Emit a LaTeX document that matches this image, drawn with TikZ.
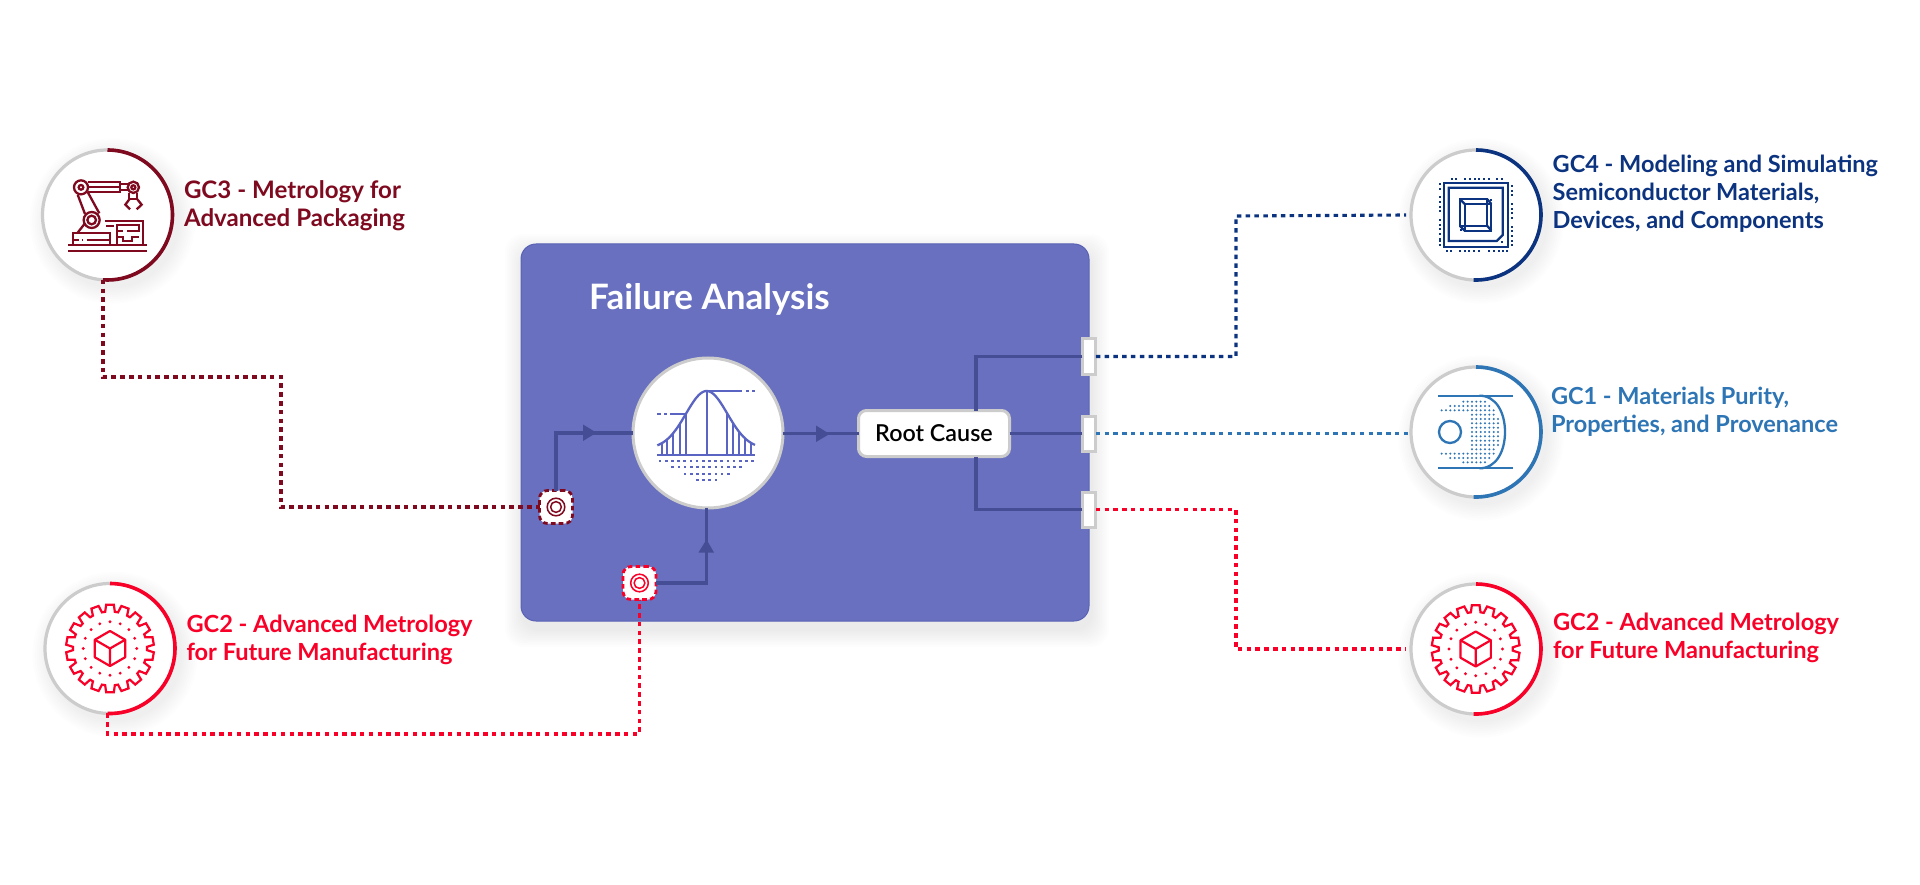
\documentclass[tikz,border=0pt]{standalone}
\usepackage{fontspec}
\setmainfont{Lato}
\usetikzlibrary{calc}
\definecolor{maroon}{HTML}{7F0A20}
\definecolor{redgc}{HTML}{F90028}
\definecolor{navygc}{HTML}{0B3380}
\definecolor{bluegc}{HTML}{2E75B5}
\definecolor{ringgray}{HTML}{CCCCCC}
\definecolor{boxfill}{HTML}{6870BF}
\definecolor{boxedge}{HTML}{5A62B5}
\definecolor{flowline}{HTML}{454E94}
\definecolor{bellblue}{HTML}{5A64C2}
\tikzset{
  ring/.style={circle,draw=ringgray,line width=3.2pt,fill=white,minimum size=130pt,inner sep=0pt,outer sep=0pt},
  ringarc/.style={line width=3.6pt},
  link/.style={line width=3.1pt,dash pattern=on 4.5pt off 4.3pt},
  flow/.style={draw=flowline,line width=3.6pt},
  flowtip/.style={fill=flowline},
  outport/.style={rectangle,draw=ringgray,fill=white,line width=3pt,minimum width=13.5pt,minimum height=35pt,inner sep=0pt,outer sep=0pt},
  inport/.style={rectangle,rounded corners=8pt,fill=white,line width=2.8pt,dash pattern=on 4.6pt off 3.2pt,minimum size=33pt,inner sep=0pt,outer sep=0pt},
  label/.style={anchor=north west,align=left,inner sep=0pt,outer sep=0pt},
  labelfont/.style={font=\fontsize{#1}{28}\selectfont\bfseries},
}
\newcommand{\softdisc}[3]{%
  \foreach \i in {1,...,8}{\fill[black,opacity=.006] (#1+5,#2+6) circle ({#3+\i*2.2});}}
\newcommand{\softbox}[4]{%
  \foreach \i in {1,...,10}{\fill[black,opacity=.008,rounded corners=18pt] ({#1-\i*1.8+2},{#2-\i*1.8+8}) rectangle ({#3+\i*1.8+2},{#4+\i*1.8+8});}}
\newcommand{\ringarc}[4]{% cx cy endangle colour
  \draw[ringarc,#4] (#1,#2-65) arc[start angle=90,end angle=#3,radius=65pt];}
\newcommand{\gearicon}[3]{%
  \begin{scope}[shift={(#1,#2)}]
  \draw[#3,line width=2.2pt] ({10-7.5}:37) \foreach \k in {0,...,17}{ -- ({10+20*\k-7.5}:37) -- ({10+20*\k-5}:44) -- ({10+20*\k+5}:44) -- ({10+20*\k+7.5}:37)} -- cycle;
  \foreach \k in {0,...,15}{\fill[#3] ({22.5*\k}:26.7) circle (1.6);}
  \draw[#3,line width=2.2pt,line join=round] (90:17.5) -- (30:17.5) -- (-30:17.5) -- (-90:17.5) -- (-150:17.5) -- (150:17.5) -- cycle;
  \draw[#3,line width=2.2pt,line join=round] (0,0) -- (-30:17.5) (0,0) -- (-150:17.5) (0,0) -- (90:17.5);
  \end{scope}}
\newcommand{\targeticon}[2]{\draw[#2,line width=1.5pt] (#1) circle (8.8) (#1) circle (5.4);}
\begin{document}
\begin{tikzpicture}[x=1pt,y=-1pt]
\useasboundingbox (0,0) rectangle (1920,885);
\fill[white] (0,0) rectangle (1920,885);

% shadows
\softbox{521}{244}{1089}{621}
\softdisc{107.5}{215}{65}
\softdisc{110}{648.5}{65}
\softdisc{1476}{215}{65}
\softdisc{1476}{432}{65}
\softdisc{1476}{649}{65}

% main panel
\node[rectangle,rounded corners=15pt,draw=boxedge,line width=1pt,fill=boxfill,minimum width=568pt,minimum height=377pt,inner sep=0pt,outer sep=0pt] (panel) at (805,432.5) {};
\node[anchor=base west,inner sep=0pt,text=white,font=\fontsize{35}{40}\selectfont\bfseries] (title) at (589,310) {Failure Analysis};

% rings
\node[ring] (gc3) at (107.5,215) {};
\node[ring] (gc2l) at (110,648.5) {};
\node[ring] (gc4) at (1476,215) {};
\node[ring] (gc1) at (1476,432) {};
\node[ring] (gc2r) at (1476,649) {};
\ringarc{107.5}{215}{-94}{maroon}
\ringarc{110}{648.5}{-92}{redgc}
\ringarc{1476}{215}{-92}{navygc}
\ringarc{1476}{432}{-92}{bluegc}
\ringarc{1476}{649}{-92}{redgc}

% inner nodes
\node[circle,draw=ringgray,line width=3pt,fill=white,minimum size=150pt,inner sep=0pt,outer sep=0pt] (bell) at (708,433) {};
\node[rectangle,rounded corners=8pt,draw=ringgray,line width=3pt,fill=white,minimum width=151pt,minimum height=46pt,inner sep=0pt,outer sep=0pt,font=\fontsize{23.3}{28}\selectfont\fontspec{Lato Semibold}] (root) at (934,433.5) {Root Cause};
\node[outport] (out1) at (1089,356.5) {};
\node[outport] (out2) at (1089,433.5) {};
\node[outport] (out3) at (1089,509.5) {};
\node[inport,draw=maroon] (in1) at (556,507) {};
\node[inport,draw=redgc] (in2) at (639.5,583) {};
\targeticon{in1.center}{maroon}
\targeticon{in2.center}{redgc}

% internal flows
\coordinate (tree) at (976,433.5);
\draw[flow] (in1.north) |- (bell.west);
\draw[flow] (in2.east) -| (bell.269);
\draw[flow] (bell.east |- root.west) -- (root.west);
\draw[flow] (root.east) -- (out2.west);
\draw[flow] (out1.west) -| (root.north -| tree);
\draw[flow] (out3.west) -| (root.south -| tree);
\fill[flowtip] (583,424.5) -- (596.5,432.7) -- (583,441) -- cycle;
\fill[flowtip] (816,425.5) -- (829.5,434) -- (816,442) -- cycle;
\fill[flowtip] (698.5,552.5) -- (706.5,539.5) -- (714,552.5) -- cycle;

% dotted links
\coordinate (a1) at (281,377);
\coordinate (a2) at (1236,216);
\coordinate (a3) at (1236,649);
\coordinate (a4) at (639.5,734);
\draw[link,maroon] (gc3.266) |- (a1) |- (in1.west);
\draw[link,redgc] (gc2l.268) |- (a4) -- (in2.south);
\draw[link,navygc] (out1.east) -| (a2) -- ([xshift=-5pt]gc4.west);
\draw[link,bluegc] (out2.east) -- ([xshift=-3pt]gc1.west |- out2.east);
\draw[link,redgc] (out3.east) -| (a3) -- ([xshift=-5pt]gc2r.west);

% labels
\node[label,labelfont=24.1,text=maroon] (t3) at (184,180.5) {GC3 - Metrology for\\Advanced Packaging};
\node[label,labelfont=23.6,text=redgc] (t2l) at (186.5,615) {GC2 - Advanced Metrology\\for Future Manufacturing};
\node[label,labelfont=23.5,text=navygc] (t4) at (1552.7,155) {GC4 - Modeling and Simulating\\Semiconductor Materials,\\Devices, and Components};
\node[label,labelfont=23.5,text=bluegc] (t1) at (1551,387.3) {GC1 - Materials Purity,\\Properties, and Provenance};
\node[label,labelfont=23.6,text=redgc] (t2r) at (1553,613) {GC2 - Advanced Metrology\\for Future Manufacturing};

% robot icon
\begin{scope}[shift={(30,140)},scale=1/3,maroon,line width=2.3pt,line join=miter]
\draw (114,316) -- (350,316) (114,332) -- (350,332);
\draw (153,142) circle (21) (153,142) circle (7);
\draw (310,142) circle (17) (310,142) circle (6);
\draw (173,126) -- (271,126) -- (271,155) -- (173,155) (175,140) -- (271,140);
\draw (271,132) -- (293,132) (271,150) -- (293,150);
\draw (298,158) -- (298,178) -- (322,178) -- (322,158);
\draw (298,178) -- (286,194) -- (300,208) (322,178) -- (335,194) -- (320,208);
\draw (143,164) -- (165,222) (173,156) -- (208,220);
\draw (185,240) circle (24) (185,240) circle (13);
\draw (143,278) -- (165,250);
\draw (130,316) -- (130,278) -- (241,278) -- (241,316);
\draw (130,300) -- (146,300) (170,300) -- (241,300);
\draw (155,300) -- (160,300);
\draw (226,242) -- (340,242) -- (340,316);
\draw (228,258) -- (252,258);
\draw (262,316) -- (262,256) -- (328,256) -- (328,272) -- (290,272);
\draw (262,290) -- (280,290) -- (280,304) -- (305,304) -- (305,290) -- (328,290);
\draw (262,272) -- (278,272);
\end{scope}

\gearicon{110}{648.5}{redgc}
\gearicon{1475.7}{649}{redgc}

% chip icon
\begin{scope}[shift={(1400,140)},scale=1/3,navygc,line width=2.3pt]
\draw (131,128) rectangle (325,320);
\draw (146,143) -- (308,143) -- (308,285) -- (290,303) -- (146,303) -- cycle;
\draw (180,178) rectangle (262,258);
\draw (194,192) rectangle (274,272);
\draw (180,178) -- (194,192) (262,178) -- (274,192) (180,258) -- (194,272) (262,258) -- (274,272);
\foreach \x in {155,168,196,210,224,238,252,266,292,306}{\fill (\x-3,114) rectangle (\x+3,120);}
\foreach \x in {140,154,180,194,208,222,236,268,282,296,310,322}{\fill (\x-3,331) rectangle (\x+3,337);}
\foreach \y in {132,146,172,186,200,214,240,254,268,282,296,304,315}{\fill (116,\y-3) rectangle (122,\y+3);}
\foreach \y in {138,152,166,192,206,220,234,260,274,288,302,315}{\fill (333,\y-3) rectangle (339,\y+3);}
\fill (270,177) rectangle (276,183);
\fill (180,268) rectangle (186,274);
\fill (304,303) rectangle (310,309);
\end{scope}

% purity icon
\begin{scope}[shift={(1400,360)},scale=1/3,bluegc,line width=2.3pt]
\draw (115,107) -- (338,107) (115,325) -- (338,325);
\draw (238,107) .. controls (290,107) and (315,160) .. (315,216) .. controls (315,272) and (290,325) .. (238,325);
\draw (150,216) circle (33);
\foreach \j in {-7,...,7}{\foreach \k in {0,...,13}{
  \pgfmathsetmacro\px{125+13*\k}
  \pgfmathsetmacro\dy{abs(13*\j)}
  \pgfmathtruncatemacro\ok{(\px>238 ? (((\px-238)/62)^2+(\dy/98)^2<1) : (\dy<55 ? (\px>=205) : (\dy<70 ? 1 : (\dy<80 ? (\px>=150) : (\dy<90 ? (\px>=165) : (\px>=178))))))}
  \ifnum\ok=1 \fill (\px,216+13*\j) circle (3.4);\fi
}}
\end{scope}

% bell curve icon
\begin{scope}[shift={(510,330)},scale=1/3,bellblue,line width=2.3pt]
\draw (442,376) -- (735,376);
\draw[domain=442:735,samples=60,smooth] plot (\x,{356-173*exp(-((\x-590)/62)^2/2)});
\foreach \x in {455,472,490,510,527,590,652,670,688,705,722}{\draw (\x,376) -- (\x,{356-173*exp(-((\x-590)/62)^2/2)});}
\draw (590,183) -- (695,183) (708,183) -- (718,183) (727,183) -- (736,183);
\draw (527,252) -- (480,252) (470,252) -- (462,252) (452,252) -- (442,252);
\foreach \x in {450,468.5,...,730}{\fill (\x-4,391) rectangle (\x+4,397);}
\foreach \x in {488,506.5,...,695}{\fill (\x-4,409) rectangle (\x+4,415);}
\foreach \x in {525,543.5,...,660}{\fill (\x-4,428) rectangle (\x+4,434);}
\foreach \x in {562,580.5,...,625}{\fill (\x-4,446) rectangle (\x+4,452);}
\end{scope}
\end{tikzpicture}
\end{document}
